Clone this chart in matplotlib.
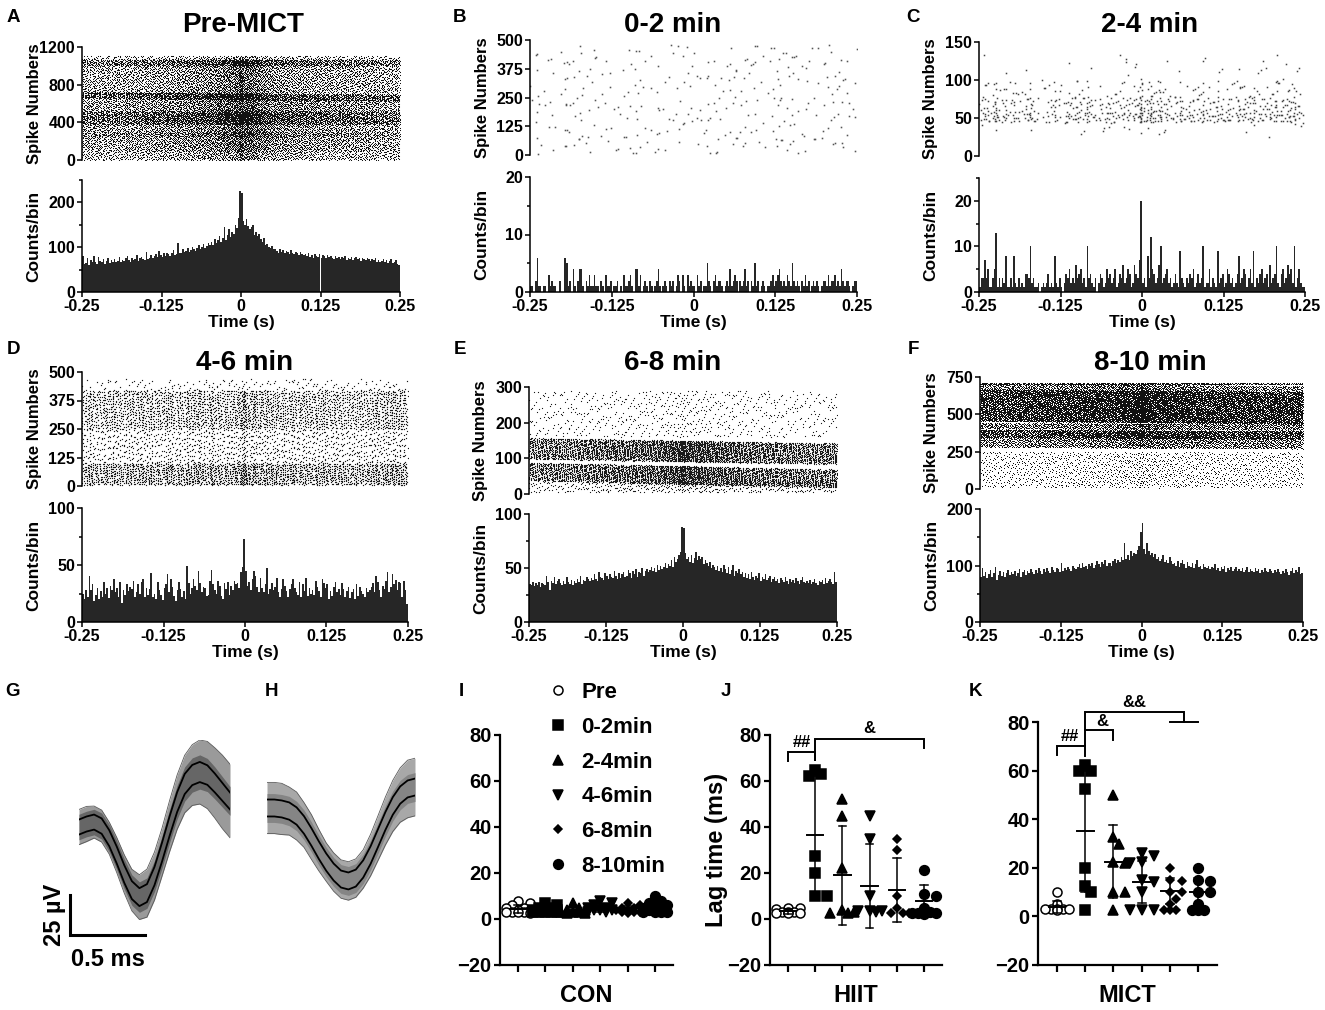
import numpy as np
import matplotlib
matplotlib.use('Agg')
import matplotlib.pyplot as plt
from matplotlib.ticker import MultipleLocator

plt.rcParams['font.family'] = ['Liberation Sans', 'DejaVu Sans']
plt.rcParams['font.weight'] = 'bold'
plt.rcParams['axes.labelweight'] = 'bold'

# ---------------- data: cross-correlogram histograms (counts per 2.5 ms bin) ----------------
hist_A = [80,62,64,75,60,72,66,81,68,63,79,70,66,74,62,69,77,65,71,68,
          73,67,70,78,66,72,69,75,80,71,68,76,72,74,83,70,75,79,73,71,
          90,74,77,82,76,80,85,78,92,83,79,86,81,88,84,80,87,93,82,85,
          110,86,88,95,90,92,98,89,94,100,96,91,99,104,97,101,108,98,103,110,
          106,112,104,118,109,115,125,111,120,145,117,128,140,122,135,130,150,142,165,225,
          220,158,150,162,148,140,145,150,128,135,124,130,118,112,120,105,108,100,98,102,
          95,97,92,88,96,90,94,87,91,89,85,93,88,84,90,86,83,89,85,82,
          84,80,86,79,83,77,85,81,78,84,76,82,80,75,83,78,81,77,74,80,
          76,79,73,78,75,80,72,77,74,79,71,76,78,73,75,70,77,74,72,76,
          74,69,73,71,75,68,72,66,70,74,67,71,65,69,73,64,68,72,63,60]
hist_B = [1,1,0,2,6,1,1,0,1,1,0,3,1,2,1,1,0,0,2,0,
          0,6,5,1,2,0,4,1,0,2,4,4,1,0,2,1,3,1,1,3,
          1,1,0,2,1,0,3,1,1,2,0,1,1,2,0,1,0,3,1,1,
          2,3,1,0,4,4,1,3,0,1,2,1,0,2,1,0,1,2,4,1,
          0,1,2,1,0,2,1,2,0,1,3,2,0,3,1,0,3,1,2,1,
          1,0,3,1,2,0,1,1,5,2,1,0,2,3,1,2,2,1,0,1,
          2,1,4,1,2,3,2,0,2,1,2,4,1,2,0,2,1,5,1,2,
          0,1,2,1,0,1,1,2,3,1,2,3,4,2,1,2,1,3,2,1,
          5,2,1,2,1,0,2,1,3,1,2,0,1,2,1,2,1,0,1,2,
          2,1,3,1,2,2,3,1,2,1,4,2,1,2,2,1,0,1,2,2]
hist_C = [1,3,3,7,3,5,1,1,3,5,13,1,3,1,3,2,8,1,1,3,
          1,8,2,1,3,1,2,1,4,4,3,10,2,3,1,1,2,0,1,2,
          1,2,4,1,2,1,8,2,1,3,1,0,2,4,3,5,2,3,2,6,
          3,4,5,2,3,1,10,3,4,2,1,3,0,2,4,3,1,2,5,3,
          4,2,3,5,1,2,4,3,6,2,3,5,4,1,2,6,4,3,7,20,
          2,3,1,8,3,12,5,4,2,3,6,10,2,3,4,5,2,3,1,2,
          4,2,1,9,3,2,1,3,2,4,3,5,1,2,4,2,3,10,1,2,
          2,5,1,3,2,1,9,2,3,4,1,2,5,4,2,3,1,2,4,8,
          2,3,5,4,1,3,5,2,9,1,3,2,4,5,2,3,4,1,6,2,
          3,4,10,2,1,4,5,2,3,6,4,5,2,10,1,3,5,2,1,1]
hist_D = [25,20,28,22,40,28,33,18,24,30,20,27,22,35,25,30,21,32,28,38,
          26,30,22,35,17,28,24,33,27,31,29,36,22,26,33,25,35,38,22,30,
          24,29,43,22,25,20,35,28,24,19,30,33,42,26,38,31,23,18,28,35,
          29,22,27,20,49,34,25,30,38,32,28,45,34,26,31,30,23,24,36,46,
          33,28,25,36,32,23,20,34,29,35,24,32,28,36,33,34,30,44,48,73,
          45,32,35,28,38,45,40,31,26,39,30,26,33,47,25,29,34,28,31,39,
          26,22,29,38,32,27,22,29,33,38,30,26,24,35,22,33,27,39,23,30,
          25,28,24,36,31,27,22,38,34,30,33,20,27,23,31,35,26,29,24,34,
          29,22,27,31,21,26,29,20,33,23,31,27,25,22,30,26,28,31,34,26,
          40,35,28,22,32,29,36,44,26,31,42,33,37,28,35,34,22,36,28,16]
hist_E = [35,34,37,33,36,34,37,32,36,35,34,43,37,30,38,36,42,35,38,40,
          36,34,38,35,42,37,35,39,34,38,36,40,37,43,35,39,38,42,40,38,
          41,39,44,40,38,46,42,41,39,45,43,40,44,42,41,47,43,40,45,41,
          44,46,42,43,48,45,41,47,44,49,42,46,45,50,43,47,49,46,48,51,
          47,50,46,53,48,52,49,51,55,50,54,52,57,51,60,56,58,62,65,88,
          87,64,58,60,56,62,55,59,65,57,61,58,60,54,57,55,52,56,50,53,
          51,48,52,47,50,46,53,49,45,51,44,48,53,43,47,45,49,44,46,42,
          45,41,44,40,46,42,39,43,41,45,38,42,40,44,39,41,43,37,40,42,
          38,40,36,41,39,37,42,38,35,40,37,39,36,41,38,35,39,42,37,36,
          38,36,39,35,37,40,36,34,38,37,39,35,41,36,38,40,37,35,46,37]
hist_F = [80,95,82,88,78,85,92,80,86,98,75,84,90,82,88,80,86,92,83,89,
          85,90,82,87,94,80,88,92,84,90,86,94,88,85,92,87,96,90,85,93,
          88,95,90,86,98,92,89,96,93,88,105,90,95,92,98,94,90,100,96,93,
          98,102,95,104,97,100,94,103,99,105,96,101,108,103,98,106,102,110,100,104,
          105,100,108,112,104,110,106,115,109,140,112,118,110,125,116,122,120,128,135,160,
          175,130,120,140,125,118,122,115,120,112,115,108,112,118,106,110,104,115,108,102,
          105,100,108,98,104,110,102,96,106,100,98,104,95,102,110,97,100,94,102,98,
          96,100,93,98,95,102,92,96,90,98,94,100,88,95,92,97,90,94,98,91,
          93,90,95,88,92,97,89,94,91,88,95,90,93,87,92,89,96,91,88,94,
          90,86,92,88,94,89,85,91,87,93,88,84,90,95,86,92,88,98,85,86]

# raster row bands: (first spike no., last spike no., relative density, drift per second)
bands_A = [(0,100,0.7,0),(100,250,0.9,0),(250,300,1.2,0),(300,380,0.9,0),(380,520,1.6,0),
           (520,640,1.0,0),(640,710,1.7,-40),(710,1000,0.8,0),(1000,1070,1.4,0),(1070,1110,0.5,0)]
bands_B = [(5,480,1.0,0)]
bands_C = [(25,45,0.12,0),(45,58,2.2,0),(58,78,1.3,0),(78,100,0.5,0),(100,135,0.1,0)]
bands_D = [(5,100,1.7,0),(100,250,0.55,0),(250,420,1.2,0),(420,470,0.25,0)]
bands_E = [(5,35,0.4,0),(28,79,2.0,-40),(91,150,2.0,-30),(160,290,0.15,0)]
bands_F = [(10,250,0.22,0),(275,340,1.0,-20),(340,395,1.7,-20),(400,440,1.1,-20),
           (445,660,1.8,-40),(660,700,1.0,-40),(700,712,1.5,0)]

panel_titles = ['Pre-MICT', '0-2 min', '2-4 min', '4-6 min', '6-8 min', '8-10 min']
raster_ymax = [1200, 500, 150, 500, 300, 750]
raster_ticks = [[0, 400, 800, 1200], [0, 125, 250, 375, 500], [0, 50, 100, 150],
                [0, 125, 250, 375, 500], [0, 100, 200, 300], [0, 250, 500, 750]]
hist_ymax = [250, 20, 25, 100, 100, 200]
hist_ticks = [[0, 100, 200], [0, 10, 20], [0, 10, 20], [0, 50, 100], [0, 50, 100], [0, 100, 200]]
time_ticks = [-0.25, -0.125, 0, 0.125, 0.25]
time_ticklabels = ['-0.25', '-0.125', '0', '0.125', '0.25']

# ---------------- data: spike waveforms (µV, 0.05 ms steps) ----------------
wave_t = [0.0,0.05,0.1,0.15,0.2,0.25,0.3,0.35,0.4,0.45,0.5,0.55,0.6,0.65,0.7,0.75,0.8,0.85,0.9,0.95,1.0]
G_mean = [0,1.9,3.1,0.6,-6.9,-17.5,-29.4,-39.4,-43.8,-41.3,-30.6,-15.6,0.6,15.6,26.9,32.5,34.4,32.5,27.5,21.9,16.3]
G_sd = [4.7,4.7,4.7,4.8,5.0,5.3,5.5,5.6,5.6,5.6,5.7,5.9,6.1,6.2,6.3,6.3,6.3,6.1,5.9,5.6,5.3]
G_spread = [11,11,10,10,10,11,12,13,14,15,15,15,16,17,18,19,20,21,22,23,23]
H_mean = [0,0,-0.6,-1.9,-5,-10.6,-18.1,-26.3,-33.8,-40,-44.4,-45.6,-43.8,-38.1,-29.4,-18.8,-8.1,1.3,8.1,11.9,13.1]
H_sd = [5.3,5.3,5.3,5.4,5.4,5.5,5.5,5.5,5.4,5.3,5.3,5.3,5.3,5.4,5.5,5.6,5.6,5.5,5.4,5.3,5.3]
H_spread = [16,16,16,15,15,14,14,13,12,12,12,12,12,12,13,14,15,16,17,18,18]

# ---------------- data: lag time (ms) ----------------
groups = ['Pre', '0-2min', '2-4min', '4-6min', '6-8min', '8-10min']
con_vals = [[8,7,6,5,5,4,4,3,3,3,3,2.5], [7,6,5,5,4,4,4,3,3,3,3,3], [7,5,4,4,3,3,3,2.5,2.5],
            [8,7,6,5,5,4,4,4,3,3], [7,6,5,5,4,4,3,3,3,2.5], [10,8,7,6,6,5,5,4,4,3,3,3,3]]
con_mean = [4.5, 4.2, 3.8, 4.8, 4.2, 5.1]
con_sd = [1.7, 1.3, 1.4, 1.6, 1.4, 2.1]
hiit_vals = [[5,5,4.5,3,3,3,2.5,2.5,2.5], [65,63,62,27.5,20,10,10], [52,45,22,4,3,2.5,2.5],
             [45,35,10,3.5,3.5,3.5,3], [35,30,10,5,2.5,2.5,2.5], [21.5,11,10,5,3,2.5,2.5,2.5,2]]
hiit_mean = [3.3, 36.7, 19.0, 14.3, 12.6, 8.0]
hiit_sd = [1.0, 25.6, 21.5, 18.2, 13.9, 7.0]
mict_vals = [[10,5,3,3,3,3,3,2.5], [62.5,60,60,52.5,20,12.5,10,2.5], [50,32.5,30,22.5,22,10,10,2.5],
             [26,25,22.5,22,15,14,10,2.5,2.5,2.5], [20,15,14.5,10,10,7,5,2.5,2.5,2.5],
             [20,15,14.5,10,10,5,2.5,2.5,2.5]]
mict_mean = [4.0, 35.0, 22.5, 14.2, 10.5, 10.0]
mict_sd = [2.5, 25.0, 15.0, 8.5, 5.5, 6.0]

# ---------------- layout helpers ----------------
W, H = 1325, 1010
fig = plt.figure(figsize=(W / 100, H / 100), dpi=100)


def px_axes(x0, y0, x1, y1):
    return fig.add_axes([x0 / W, 1 - y1 / H, (x1 - x0) / W, (y1 - y0) / H])


def radical_inverse(j, base):
    f, r = 1.0, 0.0
    while j > 0:
        f /= base
        r += f * (j % base)
        j //= base
    return r


def raster_points(counts, bands, rmax):
    # each histogram bin holds as many raster dots as its count
    edges = np.linspace(-0.25, 0.25, len(counts) + 1)
    rows = np.arange(0, rmax, 0.5)
    ts, rs = [], []
    for j, n in enumerate(counts):
        if n == 0:
            continue
        tc = 0.5 * (edges[j] + edges[j + 1])
        w = np.zeros_like(rows)
        for lo, hi, wt, sl in bands:
            w += wt * ((rows >= lo + sl * tc) & (rows < hi + sl * tc))
        cdf = np.cumsum(w)
        cdf /= cdf[-1]
        k = np.arange(n)
        off = (radical_inverse(j + 1, 2) + 0.37 * radical_inverse(j + 1, 3)) % 1.0
        q = (off + k * 0.6180339887) % 1.0
        rs.append(np.interp(q, cdf, rows))
        ts.append(edges[j] + ((k * 0.7548776 + radical_inverse(j + 1, 5)) % 1.0) * (edges[j + 1] - edges[j]))
    return np.concatenate(ts), np.concatenate(rs)


def style_axis(ax, lw=1.1, size=11.5):
    for s in ('top', 'right'):
        ax.spines[s].set_visible(False)
    for s in ('left', 'bottom'):
        ax.spines[s].set_linewidth(lw)
    ax.tick_params(width=lw, length=3.5, labelsize=size, pad=1.5)
    ax.tick_params(which='minor', width=lw, length=2.5)


# ---------------- panels A-F ----------------
hists = [hist_A, hist_B, hist_C, hist_D, hist_E, hist_F]
bands = [bands_A, bands_B, bands_C, bands_D, bands_E, bands_F]
dot_size = [0.75, 1.15, 1.1, 0.85, 0.8, 0.72]
dot_color = ['#111111', '#555555', '#444444', '#1a1a1a', '#1a1a1a', '#111111']
# (x0, x1, raster top, raster bottom, hist top, hist bottom) in pixels
boxes = [(82, 400, 47, 160, 180, 292), (530, 857, 40, 155, 177, 292), (979, 1305, 42, 156, 178, 292),
         (82, 408, 372, 486, 508, 622), (529, 837, 387, 494, 514, 622), (980, 1303, 377, 489, 509, 622)]
title_pos = [(243, 25), (673, 25), (1150, 25), (245, 363), (673, 363), (1150, 363)]
letters = [('A', 13, 17), ('B', 460, 17), ('C', 913, 17), ('D', 13, 350), ('E', 460, 350), ('F', 913, 350),
           ('G', 13, 691), ('H', 272, 691), ('I', 461, 692), ('J', 726, 692), ('K', 976, 692)]

for k in range(6):
    x0, x1, ry0, ry1, hy0, hy1 = boxes[k]
    axr = px_axes(x0, ry0, x1, ry1)
    t, r = raster_points(hists[k], bands[k], raster_ymax[k])
    axr.plot(t, r, ls='none', marker='s', ms=dot_size[k], mew=0, color=dot_color[k])
    axr.set_xlim(-0.25, 0.25)
    axr.set_ylim(0, raster_ymax[k])
    style_axis(axr)
    axr.spines['bottom'].set_visible(False)
    axr.set_xticks([])
    axr.set_yticks(raster_ticks[k])
    axr.set_ylabel('Spike Numbers', fontsize=12)
    axr.yaxis.label.set_va('center')
    axr.yaxis.set_label_coords(-48 / (x1 - x0), 0.5)

    axh = px_axes(x0, hy0, x1, hy1)
    edges = np.linspace(-0.25, 0.25, len(hists[k]) + 1)
    axh.bar(edges[:-1], hists[k], width=edges[1] - edges[0], align='edge', color='#262626', linewidth=0)
    axh.set_xlim(-0.25, 0.25)
    axh.set_ylim(0, hist_ymax[k])
    style_axis(axh)
    axh.set_yticks(hist_ticks[k])
    axh.yaxis.set_minor_locator(MultipleLocator(hist_ticks[k][1] / 2))
    axh.set_xticks(time_ticks)
    axh.set_xticklabels(time_ticklabels)
    axh.set_ylabel('Counts/bin', fontsize=12.5)
    axh.yaxis.label.set_va('center')
    axh.yaxis.set_label_coords(-48 / (x1 - x0), 0.5)
    axh.set_xlabel('Time (s)', fontsize=12.5)
    axh.xaxis.label.set_va('center')
    axh.xaxis.set_label_coords(0.5, -31 / (hy1 - hy0))

    fig.text(title_pos[k][0] / W, 1 - title_pos[k][1] / H, panel_titles[k],
             fontsize=20, ha='center', va='center')

for lab, lx, ly in letters:
    fig.text(lx / W, 1 - ly / H, lab, fontsize=13.5, ha='center', va='center')

# ---------------- panels G, H: waveforms ----------------
wt = np.array(wave_t)
for (mean, sd, spread, box, ylim, core_c, out_c) in [
        (G_mean, G_sd, G_spread, (79, 740, 230, 940), (-70.6, 54.4), '#666666', '#9a9a9a'),
        (H_mean, H_sd, H_spread, (267, 740, 415, 940), (-82.5, 42.5), '#858585', '#a8a8a8')]:
    ax = px_axes(*box)
    mean, sd, spread = np.array(mean), np.array(sd), np.array(spread)
    ax.fill_between(wt, mean - spread, mean + spread, color=out_c, lw=0)
    ax.plot(wt, mean - spread, color='#5a5a5a', lw=0.6)
    ax.plot(wt, mean + spread, color='#5a5a5a', lw=0.6)
    ax.fill_between(wt, mean - 1.7 * sd, mean + 1.7 * sd, color=core_c, lw=0)
    ax.plot(wt, mean + sd, color='k', lw=1.3)
    ax.plot(wt, mean - sd, color='k', lw=1.3)
    ax.set_xlim(0, 1.0)
    ax.set_ylim(*ylim)
    ax.axis('off')
    if box[0] == 79:
        axg = ax

# scale bar: 25 µV, 0.5 ms
sx, sy = -0.06, -67.5
axg.plot([sx, sx, sx + 0.5], [sy + 25, sy, sy], color='k', lw=2.2, clip_on=False,
         solid_joinstyle='miter')
axg.text(sx - 0.1, sy + 12.5, '25 µV', rotation=90, fontsize=17, ha='center', va='center')
axg.text(sx + 0.25, sy - 8, '0.5 ms', fontsize=17, ha='center', va='top')

# ---------------- panels I, J, K: lag time ----------------
marker_styles = [dict(marker='o', mfc='white', ms=6.5), dict(marker='s', mfc='k', ms=6.5),
                 dict(marker='^', mfc='k', ms=7), dict(marker='v', mfc='k', ms=7),
                 dict(marker='D', mfc='k', ms=4.5), dict(marker='o', mfc='k', ms=7)]


def swarm(vals, xpx, ypx, step=6.0, mind=7.5):
    offs = np.zeros(len(vals))
    placed = []
    for i in np.argsort(-vals, kind='stable'):
        y = vals[i] * ypx
        best, bestd = 0.0, -1.0
        for cand in (0, 1, -1, 2, -2):
            x = cand * step
            d = min([np.hypot(x - px, y - py) for px, py in placed] or [1e9])
            if d >= mind:
                best = x
                break
            if d > bestd:
                best, bestd = x, d
        placed.append((best, y))
        offs[i] = best / xpx
    return offs


def lag_panel(box, vals, means, sds, xlabel):
    x0, y0, x1, y1, tick0, tick5 = box
    ax = px_axes(x0, y0, x1, y1)
    xpx = (tick5 - tick0) / 5.0
    ax.set_xlim((x0 - tick0) / xpx, (x1 - tick0) / xpx)
    ax.set_ylim(-20, 80)
    ypx = (y1 - y0) / 100.0
    handles = []
    for c in range(6):
        v = np.array(vals[c], float)
        off = swarm(v, xpx, ypx)
        h, = ax.plot(c + off, v, ls='none', mec='k', mew=1.1, color='k', label=groups[c],
                     clip_on=False, zorder=3, **marker_styles[c])
        handles.append(h)
        m, s = means[c], sds[c]
        ax.plot([c - 0.3, c + 0.3], [m, m], color='k', lw=1.4, zorder=4)
        ax.plot([c, c], [m - s, m + s], color='k', lw=1.1, zorder=4)
        for e in (m - s, m + s):
            ax.plot([c - 0.14, c + 0.14], [e, e], color='k', lw=1.1, zorder=4)
    for s in ('top', 'right'):
        ax.spines[s].set_visible(False)
    for s in ('left', 'bottom'):
        ax.spines[s].set_linewidth(1.6)
    ax.set_xticks(range(6))
    ax.set_xticklabels([])
    ax.set_yticks([-20, 0, 20, 40, 60, 80])
    ax.tick_params(axis='x', width=1.6, length=5)
    ax.tick_params(axis='y', width=1.6, length=4, labelsize=14.5, pad=2)
    ax.set_xlabel(xlabel, fontsize=17)
    ax.xaxis.label.set_va('center')
    ax.xaxis.set_label_coords(0.5, -30 / (y1 - y0))
    return ax, handles


axI, hI = lag_panel((500, 735, 673, 965, 518, 655), con_vals, con_mean, con_sd, 'CON')
axJ, _ = lag_panel((770, 735, 942, 965, 788, 924), hiit_vals, hiit_mean, hiit_sd, 'HIIT')
axK, _ = lag_panel((1038, 722, 1217, 965, 1057, 1198), mict_vals, mict_mean, mict_sd, 'MICT')

axI.legend(handles=hI, loc='upper left', bbox_to_anchor=(549 / W, 1 - 682 / H),
           bbox_transform=fig.transFigure, frameon=False, fontsize=16, handlelength=0.8,
           handletextpad=0.65, labelspacing=0.62, borderpad=0, borderaxespad=0)

axJ.set_ylabel('Lag time (ms)', fontsize=17)
axJ.yaxis.label.set_va('center')
axJ.yaxis.set_label_coords(-54 / 172, 0.5)


def bracket(ax, xs, ys):
    ax.plot(xs, ys, color='k', lw=1.4, clip_on=False, solid_joinstyle='miter')


bracket(axJ, [0, 0, 1, 1], [68.7, 72.6, 72.6, 69])
bracket(axJ, [1, 1, 5, 5], [69, 78.3, 78.3, 74.3])
axJ.text(0.5, 73.3, '##', fontsize=12, ha='center', va='bottom')
axJ.text(3.0, 79.5, '&', fontsize=12, ha='center', va='bottom')

bracket(axK, [0, 0, 1], [66.4, 70, 70])
bracket(axK, [1, 1, 4.5, 4.5], [66, 84.2, 84.2, 80])
bracket(axK, [4, 5], [80, 80])
bracket(axK, [1, 2, 2], [76.7, 76.7, 72.6])
axK.text(0.45, 70.8, '##', fontsize=12, ha='center', va='bottom')
axK.text(1.6, 77.3, '&', fontsize=12, ha='center', va='bottom')
axK.text(2.75, 85.0, '&&', fontsize=12, ha='center', va='bottom')

fig.savefig('out.png', dpi=100)
